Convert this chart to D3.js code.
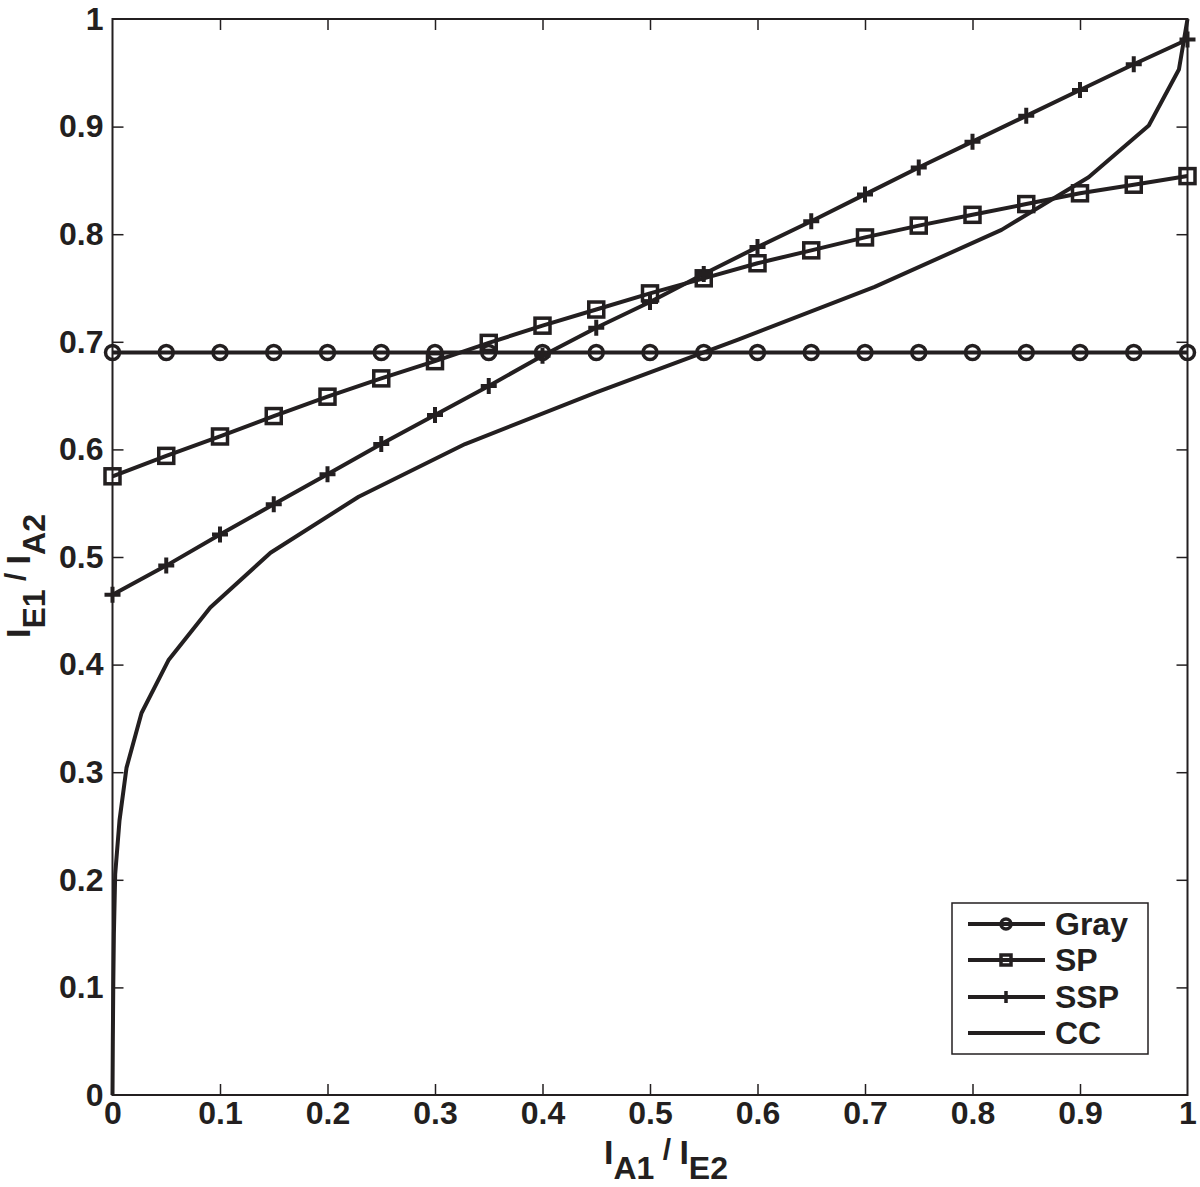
<!DOCTYPE html>
<html>
<head>
<meta charset="utf-8">
<script src="https://cdn.jsdelivr.net/npm/d3@7"></script>
<style>
  body { margin: 0; background: #fff; }
  svg { display: block; }
  text { font-family: "Liberation Sans", Arial, Helvetica, sans-serif; font-weight: bold; fill: #231f20; }
</style>
</head>
<body>
<script>
// ---- data ----
const xValues = [0, 0.05, 0.1, 0.15, 0.2, 0.25, 0.3, 0.35, 0.4, 0.45, 0.5, 0.55, 0.6, 0.65, 0.7, 0.75, 0.8, 0.85, 0.9, 0.95, 1.0];
const grayValues = [0.69, 0.69, 0.69, 0.69, 0.69, 0.69, 0.69, 0.69, 0.69, 0.69, 0.69, 0.69, 0.69, 0.69, 0.69, 0.69, 0.69, 0.69, 0.69, 0.69, 0.69];
const spValues = [0.575, 0.594, 0.612, 0.631, 0.649, 0.666, 0.682, 0.699, 0.715, 0.730, 0.745, 0.759, 0.773, 0.785, 0.797, 0.808, 0.818, 0.828, 0.838, 0.846, 0.854];
const sspValues = [0.465, 0.492, 0.521, 0.549, 0.577, 0.605, 0.632, 0.659, 0.687, 0.713, 0.737, 0.763, 0.788, 0.812, 0.837, 0.862, 0.886, 0.910, 0.934, 0.958, 0.981];
const ccX = [0, 0.0003, 0.0007, 0.0013, 0.0025, 0.0065, 0.013, 0.027, 0.052, 0.091, 0.147, 0.229, 0.328, 0.450, 0.582, 0.709, 0.827, 0.908, 0.964, 0.992, 1.0];
const ccY = [0, 0.05, 0.1, 0.15, 0.205, 0.255, 0.304, 0.355, 0.404, 0.453, 0.504, 0.556, 0.605, 0.653, 0.702, 0.751, 0.804, 0.853, 0.901, 0.953, 1.0];
const xTicks = [0, 0.1, 0.2, 0.3, 0.4, 0.5, 0.6, 0.7, 0.8, 0.9, 1];
const yTicks = [0, 0.1, 0.2, 0.3, 0.4, 0.5, 0.6, 0.7, 0.8, 0.9, 1];
const seriesNames = ["Gray", "SP", "SSP", "CC"];

// ---- layout ----
const W = 1200, H = 1187;
const pL = 112.5, pR = 1187.5, pT = 19, pB = 1095;
const ink = "#231f20";

const svg = d3.select("body").append("svg").attr("width", W).attr("height", H);

const x = d3.scaleLinear().domain([0, 1]).range([pL, pR]);
const y = d3.scaleLinear().domain([0, 1]).range([pB, pT]);

const fmt = d => d === 0 ? "0" : d === 1 ? "1" : d3.format(".1f")(d);

// axes (ticks inward, mirrored)
function styleAxis(g) {
  g.select(".domain").remove();
  g.selectAll(".tick line").attr("stroke", ink).attr("stroke-width", 1.5);
  g.selectAll(".tick text").attr("font-size", 32).attr("fill", ink)
    .style("font-family", '"Liberation Sans", Arial, sans-serif').style("font-weight", "bold");
  g.selectAll(".tick").filter(d => d === 0 || d === 1).select("line").remove();
}
svg.append("g").attr("transform", `translate(0,${pB})`)
  .call(d3.axisBottom(x).tickValues(xTicks).tickFormat(fmt).tickSizeInner(-11).tickSizeOuter(0).tickPadding(6))
  .call(styleAxis);
svg.append("g").attr("transform", `translate(0,${pT})`)
  .call(d3.axisTop(x).tickValues(xTicks).tickFormat("").tickSizeInner(-11).tickSizeOuter(0))
  .call(styleAxis);
svg.append("g").attr("transform", `translate(${pL},0)`)
  .call(d3.axisLeft(y).tickValues(yTicks).tickFormat(fmt).tickSizeInner(-11).tickSizeOuter(0).tickPadding(9))
  .call(styleAxis);
svg.append("g").attr("transform", `translate(${pR},0)`)
  .call(d3.axisRight(y).tickValues(yTicks).tickFormat("").tickSizeInner(-11).tickSizeOuter(0))
  .call(styleAxis);

// box
svg.append("rect").attr("x", pL).attr("y", pT).attr("width", pR - pL).attr("height", pB - pT)
  .attr("fill", "none").attr("stroke", ink).attr("stroke-width", 2);

// lines
const line = d3.line().x(d => x(d[0])).y(d => y(d[1]));
const lw = 4;
const grayPts = xValues.map((v, i) => [v, grayValues[i]]);
const spPts = xValues.map((v, i) => [v, spValues[i]]);
const sspPts = xValues.map((v, i) => [v, sspValues[i]]);
const ccPts = ccX.map((v, i) => [v, ccY[i]]);

[ccPts, grayPts, sspPts, spPts].forEach(pts => {
  svg.append("path").datum(pts).attr("d", line)
    .attr("fill", "none").attr("stroke", ink).attr("stroke-width", lw).attr("stroke-linejoin", "round");
});

// markers
function circleMarker(g, cx, cy, r) {
  g.append("circle").attr("cx", cx).attr("cy", cy).attr("r", r)
    .attr("fill", "none").attr("stroke", ink).attr("stroke-width", 3.5);
}
function squareMarker(g, cx, cy, s) {
  g.append("rect").attr("x", cx - s / 2).attr("y", cy - s / 2).attr("width", s).attr("height", s)
    .attr("fill", "none").attr("stroke", ink).attr("stroke-width", 3.5);
}
function plusMarker(g, cx, cy, s, sw) {
  g.append("path").attr("d", `M${cx - s / 2},${cy}H${cx + s / 2}M${cx},${cy - s / 2}V${cy + s / 2}`)
    .attr("stroke", ink).attr("stroke-width", sw).attr("fill", "none");
}
const mk = svg.append("g");
grayPts.forEach(p => circleMarker(mk, x(p[0]), y(p[1]), 7));
spPts.forEach(p => squareMarker(mk, x(p[0]), y(p[1]), 15));
sspPts.forEach(p => plusMarker(mk, x(p[0]), y(p[1]), 16, 4));

// axis labels
const xl = svg.append("text").attr("x", 666).attr("y", 1164).attr("text-anchor", "middle").attr("font-size", 34);
xl.append("tspan").text("I");
xl.append("tspan").attr("dy", 15).attr("font-size", 32).text("A1");
xl.append("tspan").attr("dy", -19).attr("font-size", 30).text(" / ");
xl.append("tspan").attr("dy", 4).attr("font-size", 34).text("I");
xl.append("tspan").attr("dy", 15).attr("font-size", 32).text("E2");

const yl = svg.append("text").attr("transform", `translate(30,576) rotate(-90)`).attr("text-anchor", "middle").attr("font-size", 34);
yl.append("tspan").text("I");
yl.append("tspan").attr("dy", 15).attr("font-size", 32).text("E1");
yl.append("tspan").attr("dy", -19).attr("font-size", 30).text(" / ");
yl.append("tspan").attr("dy", 4).attr("font-size", 34).text("I");
yl.append("tspan").attr("dy", 15).attr("font-size", 32).text("A2");

// legend
const lg = svg.append("g");
lg.append("rect").attr("x", 952).attr("y", 903).attr("width", 196).attr("height", 151)
  .attr("fill", "#fff").attr("stroke", ink).attr("stroke-width", 1.5);
const rowY = [924, 960, 997, 1033];
seriesNames.forEach((name, i) => {
  const cy = rowY[i];
  lg.append("line").attr("x1", 968).attr("x2", 1045).attr("y1", cy).attr("y2", cy)
    .attr("stroke", ink).attr("stroke-width", lw);
  if (i === 0) circleMarker(lg, 1006, cy, 5);
  if (i === 1) squareMarker(lg, 1006, cy, 10);
  if (i === 2) plusMarker(lg, 1006, cy, 12, 3.5);
  lg.append("text").attr("x", 1055).attr("y", cy + 11).attr("font-size", 32).text(name);
});
</script>
</body>
</html>
